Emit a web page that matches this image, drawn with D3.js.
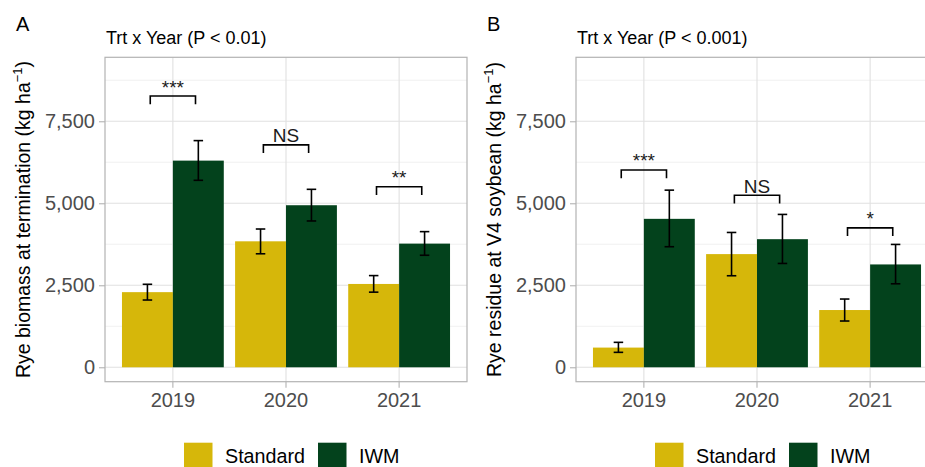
<!DOCTYPE html>
<html>
<head>
<meta charset="utf-8">
<script src="https://cdn.jsdelivr.net/npm/d3@7"></script>
<style>
  body { margin: 0; background: #fff; }
  svg { display: block; font-family: "Liberation Sans", Arial, sans-serif; }
</style>
</head>
<body>
<svg id="chart" width="925" height="467"></svg>
<script>
/********************************************************
 ********************* Data *****************************
 ********************************************************/
var years = ["2019", "2020", "2021"];
var treatments = ["Standard", "IWM"];
var yTicks = [0, 2500, 5000, 7500];
var yMinor = [1250, 3750, 6250, 8750];

// panel A - rye biomass at termination
var aStdMean = [2290, 3840, 2540];
var aStdLo   = [2050, 3460, 2290];
var aStdHi   = [2530, 4215, 2795];
var aIwmMean = [6300, 4940, 3770];
var aIwmLo   = [5700, 4460, 3415];
var aIwmHi   = [6910, 5425, 4135];
var aBracketY = [8270, 6780, 5505];
var aSig = ["***", "NS", "**"];

// panel B - rye residue at V4 soybean
var bStdMean = [600, 3450, 1745];
var bStdLo   = [455, 2790, 1410];
var bStdHi   = [760, 4110, 2080];
var bIwmMean = [4525, 3905, 3135];
var bIwmLo   = [3675, 3165, 2545];
var bIwmHi   = [5400, 4660, 3745];
var bBracketY = [6015, 5245, 4250];
var bSig = ["***", "NS", "*"];

var colors = { "Standard": "#D6B70A", "IWM": "#03421C" };

/********************************************************
 ********************* Panels ***************************
 ********************************************************/
var svg = d3.select("#chart");

function rows(stdMean, stdLo, stdHi, iwmMean, iwmLo, iwmHi) {
  var out = [];
  years.forEach(function(yr, i) {
    out.push({ year: yr, trt: "Standard", mean: stdMean[i], lo: stdLo[i], hi: stdHi[i] });
    out.push({ year: yr, trt: "IWM", mean: iwmMean[i], lo: iwmLo[i], hi: iwmHi[i] });
  });
  return out;
}

function draw_panel(dx, letter, title, yTitle, data, bracketY, sig) {
  var left = 105, right = 467, top = 57.3, bottom = 381.7;

  var g = svg.append("g").attr("transform", "translate(" + dx + ",0)");

  var x = d3.scaleBand().domain(years).range([left, right])
      .paddingInner(0.1).paddingOuter(0.15);
  var xs = d3.scaleBand().domain(treatments).range([0, x.bandwidth()]);
  var y = d3.scaleLinear().domain([-440, 9450]).range([bottom, top]);
  var mid = function(yr) { return x(yr) + x.bandwidth() / 2; };

  // grid
  g.selectAll(".minor").data(yMinor).enter().append("line")
      .attr("x1", left).attr("x2", right)
      .attr("y1", function(d) { return y(d); }).attr("y2", function(d) { return y(d); })
      .attr("stroke", "#E6E6E6").attr("stroke-width", 0.6);
  g.selectAll(".major").data(yTicks).enter().append("line")
      .attr("x1", left).attr("x2", right)
      .attr("y1", function(d) { return y(d); }).attr("y2", function(d) { return y(d); })
      .attr("stroke", "#E0E0E0").attr("stroke-width", 1.1);
  g.selectAll(".vgrid").data(years).enter().append("line")
      .attr("x1", mid).attr("x2", mid)
      .attr("y1", top).attr("y2", bottom)
      .attr("stroke", "#E0E0E0").attr("stroke-width", 1.1);

  // bars
  g.selectAll(".bar").data(data).enter().append("rect")
      .attr("x", function(d) { return x(d.year) + xs(d.trt); })
      .attr("y", function(d) { return y(d.mean); })
      .attr("width", xs.bandwidth())
      .attr("height", function(d) { return y(0) - y(d.mean); })
      .attr("fill", function(d) { return colors[d.trt]; });

  // error bars
  var cap = x.step() * 0.042;
  var eb = g.selectAll(".err").data(data).enter().append("g")
      .attr("stroke", "#000").attr("stroke-width", 1.6).attr("fill", "none");
  eb.append("line")
      .attr("x1", function(d) { return x(d.year) + xs(d.trt) + xs.bandwidth() / 2; })
      .attr("x2", function(d) { return x(d.year) + xs(d.trt) + xs.bandwidth() / 2; })
      .attr("y1", function(d) { return y(d.lo); })
      .attr("y2", function(d) { return y(d.hi); });
  ["lo", "hi"].forEach(function(k) {
    eb.append("line")
        .attr("x1", function(d) { return x(d.year) + xs(d.trt) + xs.bandwidth() / 2 - cap; })
        .attr("x2", function(d) { return x(d.year) + xs(d.trt) + xs.bandwidth() / 2 + cap; })
        .attr("y1", function(d) { return y(d[k]); })
        .attr("y2", function(d) { return y(d[k]); });
  });

  // significance brackets
  var half = x.step() * 0.2, tip = 250;
  years.forEach(function(yr, i) {
    var c = mid(yr);
    g.append("path")
        .attr("d", "M" + (c - half) + "," + y(bracketY[i] - tip) +
                   "V" + y(bracketY[i]) + "H" + (c + half) + "V" + y(bracketY[i] - tip))
        .attr("fill", "none").attr("stroke", "#000").attr("stroke-width", 1.6);
    g.append("text")
        .attr("x", c).attr("y", y(bracketY[i]) - 2.5)
        .attr("text-anchor", "middle")
        .attr("font-size", 19).attr("fill", "#1a1a1a")
        .text(sig[i]);
  });

  // border
  g.append("rect")
      .attr("x", left).attr("y", top)
      .attr("width", right - left).attr("height", bottom - top)
      .attr("fill", "none").attr("stroke", "#B3B3B3").attr("stroke-width", 1.2);

  // axes
  var yAxis = g.append("g").attr("transform", "translate(" + left + ",0)")
      .call(d3.axisLeft(y).tickValues(yTicks).tickSize(6).tickPadding(4).tickFormat(d3.format(",")));
  var xAxis = g.append("g").attr("transform", "translate(0," + bottom + ")")
      .call(d3.axisBottom(x).tickSize(6).tickPadding(5));
  [yAxis, xAxis].forEach(function(ax) {
    ax.select(".domain").remove();
    ax.selectAll(".tick line").attr("stroke", "#B3B3B3").attr("stroke-width", 1.1);
    ax.selectAll(".tick text").attr("fill", "#4D4D4D")
        .attr("font-family", "Liberation Sans, Arial, sans-serif");
  });
  yAxis.selectAll(".tick text").attr("font-size", 20);
  xAxis.selectAll(".tick text").attr("font-size", 20);

  // titles
  g.append("text").attr("x", 16).attr("y", 30.7)
      .attr("font-size", 20).attr("fill", "#000").text(letter);
  g.append("text").attr("x", left + 1).attr("y", 44)
      .attr("font-size", 18).attr("fill", "#000").text(title);
  var yt = g.append("text")
      .attr("transform", "translate(30," + ((top + bottom) / 2) + ") rotate(-90)")
      .attr("text-anchor", "middle")
      .attr("font-size", 19.5).attr("fill", "#000");
  yt.append("tspan").text(yTitle + " (kg ha");
  yt.append("tspan").attr("font-size", 13).attr("dy", -8).text("\u22121");
  yt.append("tspan").attr("dy", 8).text(")");

  // legend (sits at the bottom edge, as in the original)
  var lg = g.append("g").attr("transform", "translate(184,442.7)");
  var lx = [0, 134];
  treatments.forEach(function(t, i) {
    lg.append("rect").attr("x", lx[i]).attr("y", 0)
        .attr("width", 28.5).attr("height", 28).attr("fill", colors[t]);
    lg.append("text").attr("x", lx[i] + 41).attr("y", 20.5)
        .attr("font-size", 19.7).attr("fill", "#000").text(t);
  });
}

draw_panel(0, "A", "Trt x Year (P < 0.01)", "Rye biomass at termination",
  rows(aStdMean, aStdLo, aStdHi, aIwmMean, aIwmLo, aIwmHi), aBracketY, aSig);
draw_panel(471, "B", "Trt x Year (P < 0.001)", "Rye residue at V4 soybean",
  rows(bStdMean, bStdLo, bStdHi, bIwmMean, bIwmLo, bIwmHi), bBracketY, bSig);
</script>
</body>
</html>
